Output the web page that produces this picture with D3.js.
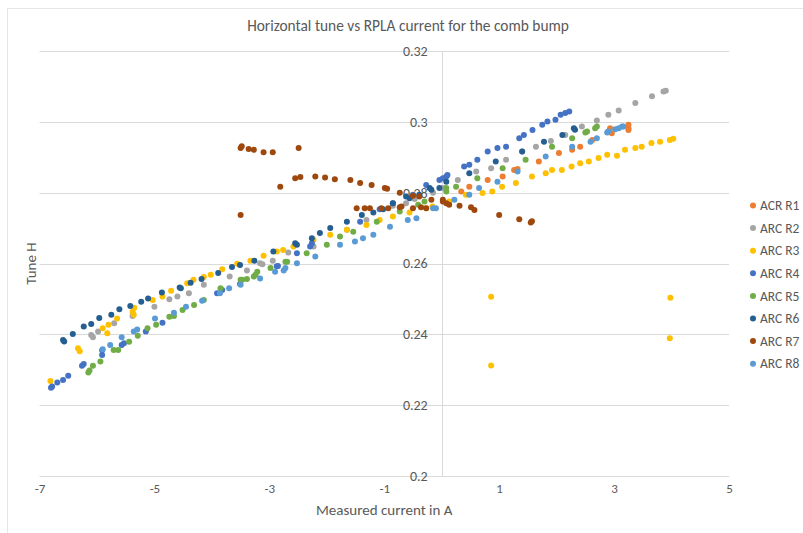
<!DOCTYPE html>
<html>
<head>
<meta charset="utf-8">
<script src="https://cdn.jsdelivr.net/npm/d3@7"></script>
<style>
  body { margin: 0; background: #fff; }
  text { font-family: Carlito, Calibri, Lato, "Open Sans", sans-serif; fill: #595959; }
</style>
</head>
<body>
<div id="chart"></div>
<script>
// data, [current A, tune H]
const acrR1 = [[0.34,0.2803],[0.48,0.2817],[0.80,0.2836],[1.06,0.2846],[1.26,0.2864],[1.32,0.2867],[1.69,0.2888],[2.04,0.2912],[2.27,0.2921],[2.41,0.2930],[2.62,0.2949],[2.90,0.2973],[2.93,0.2982],[2.96,0.2968],[3.25,0.2992],[3.25,0.2982],[3.25,0.2977]];
const arcR2 = [[-6.10,0.2398],[-6.07,0.2392],[-5.98,0.2408],[-5.70,0.2431],[-5.38,0.2452],[-5.00,0.2478],[-4.74,0.2499],[-4.60,0.2507],[-4.40,0.2516],[-4.14,0.2540],[-3.69,0.2563],[-3.39,0.2580],[-3.16,0.2601],[-3.12,0.2598],[-2.94,0.2608],[-2.67,0.2631],[-2.23,0.2648],[-1.65,0.2695],[-1.31,0.2723],[-0.85,0.2763],[-0.62,0.2770],[-0.47,0.2782],[-0.15,0.2800],[0.02,0.2813],[0.28,0.2836],[0.60,0.2860],[0.86,0.2869],[1.12,0.2893],[1.40,0.2916],[1.64,0.2930],[1.90,0.2946],[2.15,0.2963],[2.44,0.2987],[2.70,0.3004],[2.90,0.3020],[3.08,0.3032],[3.37,0.3053],[3.66,0.3072],[3.86,0.3086],[3.90,0.3088]];
const arcR3 = [[-6.81,0.2268],[-6.33,0.2361],[-6.30,0.2352],[-5.90,0.2417],[-5.82,0.2403],[-5.80,0.2427],[-5.65,0.2445],[-5.38,0.2464],[-5.35,0.2475],[-5.36,0.2455],[-5.03,0.2497],[-4.86,0.2507],[-4.71,0.2523],[-4.43,0.2544],[-4.32,0.2554],[-4.14,0.2562],[-4.02,0.2568],[-3.82,0.2584],[-3.56,0.2599],[-3.33,0.2608],[-3.10,0.2622],[-2.87,0.2634],[-2.76,0.2638],[-2.58,0.2648],[-2.23,0.2667],[-1.94,0.2681],[-1.65,0.2695],[-1.31,0.2709],[-1.08,0.2723],[-0.85,0.2733],[-0.56,0.2744],[-0.27,0.2756],[-0.16,0.2761],[0.13,0.2775],[0.42,0.2794],[0.71,0.2799],[0.88,0.2803],[1.05,0.2817],[1.29,0.2827],[1.57,0.2846],[1.81,0.2855],[1.92,0.2864],[2.09,0.2864],[2.26,0.2874],[2.41,0.2883],[2.56,0.2888],[2.73,0.2898],[2.88,0.2907],[3.05,0.2904],[3.19,0.2921],[3.37,0.2926],[3.48,0.2930],[3.65,0.2940],[3.80,0.2944],[3.97,0.2949],[4.03,0.2952],[0.86,0.2506],[0.86,0.2312],[3.98,0.2503],[3.97,0.2389]];
const arcR4 = [[-6.80,0.2249],[-6.78,0.2253],[-6.69,0.2264],[-6.59,0.2271],[-6.50,0.2283],[-6.26,0.2311],[-6.23,0.2316],[-5.91,0.2342],[-5.91,0.2355],[-5.57,0.2370],[-5.53,0.2375],[-5.15,0.2408],[-4.86,0.2433],[-3.91,0.2516],[-3.82,0.2525],[-3.51,0.2542],[-2.87,0.2592],[-2.85,0.2593],[-2.52,0.2629],[-2.29,0.2648],[-2.26,0.2657],[-1.42,0.2718],[-1.08,0.2753],[-0.85,0.2770],[-0.50,0.2794],[-0.27,0.2822],[-0.04,0.2836],[0.02,0.2841],[0.08,0.2846],[0.10,0.2850],[0.39,0.2874],[0.48,0.2879],[0.62,0.2893],[0.80,0.2916],[0.97,0.2926],[1.12,0.2930],[1.35,0.2954],[1.43,0.2963],[1.58,0.2977],[1.75,0.2992],[1.84,0.3001],[1.98,0.3006],[2.07,0.3020],[2.15,0.3025],[2.22,0.3029]];
const arcR5 = [[-6.15,0.2292],[-6.13,0.2298],[-6.07,0.2311],[-5.94,0.2323],[-5.71,0.2356],[-5.63,0.2356],[-5.44,0.2379],[-5.29,0.2396],[-5.12,0.2417],[-4.97,0.2427],[-4.74,0.2450],[-4.66,0.2452],[-4.51,0.2469],[-4.31,0.2483],[-4.14,0.2497],[-3.85,0.2530],[-3.50,0.2554],[-3.47,0.2554],[-3.39,0.2556],[-3.27,0.2563],[-3.24,0.2568],[-3.21,0.2577],[-2.98,0.2587],[-2.72,0.2605],[-2.69,0.2605],[-2.35,0.2629],[-2.00,0.2653],[-1.77,0.2676],[-1.54,0.2690],[-1.13,0.2718],[-0.73,0.2747],[-0.41,0.2766],[-0.30,0.2775],[0.08,0.2803],[0.08,0.2813],[0.25,0.2817],[0.62,0.2841],[1.06,0.2869],[1.46,0.2893],[1.92,0.2930],[2.27,0.2954],[2.50,0.2970],[2.53,0.2973],[2.67,0.2982],[2.70,0.2987]];
const arcR6 = [[-6.59,0.2384],[-6.57,0.2380],[-6.42,0.2401],[-6.23,0.2422],[-6.10,0.2429],[-5.96,0.2446],[-5.75,0.2455],[-5.61,0.2471],[-5.42,0.2480],[-5.23,0.2492],[-5.11,0.2501],[-4.87,0.2518],[-4.56,0.2532],[-4.54,0.2530],[-4.37,0.2546],[-4.18,0.2556],[-3.89,0.2573],[-3.65,0.2590],[-3.51,0.2596],[-3.26,0.2608],[-2.93,0.2634],[-2.55,0.2657],[-2.52,0.2653],[-2.26,0.2671],[-2.12,0.2686],[-1.94,0.2700],[-1.65,0.2718],[-1.39,0.2737],[-1.19,0.2744],[-1.02,0.2753],[-0.85,0.2770],[-0.62,0.2789],[-0.56,0.2784],[-0.39,0.2794],[-0.21,0.2813],[-0.18,0.2808],[-0.04,0.2813],[0.08,0.2831],[0.48,0.2855],[0.94,0.2888],[1.40,0.2916],[1.78,0.2944],[2.10,0.2963],[2.30,0.2982],[2.32,0.2978]];
const arcR7 = [[-3.50,0.2926],[-3.48,0.2931],[-3.36,0.2923],[-3.27,0.2921],[-3.10,0.2914],[-2.94,0.2914],[-2.49,0.2926],[-2.81,0.2817],[-3.50,0.2737],[-2.55,0.2841],[-2.46,0.2844],[-2.20,0.2846],[-2.03,0.2843],[-1.86,0.2838],[-1.59,0.2836],[-1.42,0.2827],[-1.22,0.2822],[-0.99,0.2813],[-0.95,0.2811],[-0.73,0.2800],[-0.50,0.2791],[-0.39,0.2789],[-0.18,0.2780],[0.02,0.2775],[-1.48,0.2756],[-1.34,0.2756],[-1.25,0.2756],[-1.05,0.2756],[-0.93,0.2756],[-0.73,0.2759],[-0.70,0.2761],[-0.50,0.2756],[-0.36,0.2759],[-0.27,0.2756],[0.02,0.2780],[0.08,0.2770],[0.13,0.2766],[0.31,0.2763],[0.51,0.2759],[0.57,0.2751],[1.00,0.2737],[1.35,0.2725],[1.55,0.2716],[1.57,0.2719]];
const arcR8 = [[-5.90,0.2358],[-5.77,0.2370],[-5.57,0.2392],[-5.36,0.2408],[-5.30,0.2414],[-4.99,0.2445],[-4.66,0.2461],[-4.45,0.2478],[-4.17,0.2495],[-3.86,0.2516],[-3.70,0.2530],[-3.50,0.2540],[-3.16,0.2558],[-2.90,0.2577],[-2.75,0.2580],[-2.72,0.2587],[-2.52,0.2601],[-2.20,0.2620],[-1.77,0.2653],[-1.51,0.2662],[-1.37,0.2671],[-1.19,0.2681],[-0.90,0.2704],[-0.59,0.2723],[-0.44,0.2728],[-0.15,0.2756],[-0.10,0.2756],[0.22,0.2780],[0.48,0.2794],[0.65,0.2813],[0.97,0.2831],[1.32,0.2860],[1.81,0.2902],[2.27,0.2930],[2.59,0.2944],[2.70,0.2954],[2.88,0.2970],[2.90,0.2973],[3.02,0.2979],[3.08,0.2982],[3.14,0.2987],[3.16,0.2987]];

const seriesNames = ["ACR R1", "ARC R2", "ARC R3", "ARC R4", "ARC R5", "ARC R6", "ARC R7", "ARC R8"];
const seriesColors = ["#ed7d31", "#a5a5a5", "#ffc000", "#4472c4", "#70ad47", "#255e91", "#9e480e", "#5b9bd5"];
const seriesData = [acrR1, arcR2, arcR3, arcR4, arcR5, arcR6, arcR7, arcR8];

const xTicks = [-7, -5, -3, -1, 1, 3, 5];
const yTicks = [0.2, 0.22, 0.24, 0.26, 0.28, 0.3, 0.32];

const width = 803, height = 533;
const plot = { left: 39.5, right: 729, top: 51, bottom: 476 };

const svg = d3.select("#chart").append("svg")
  .attr("width", width)
  .attr("height", height);

// chart border
svg.append("rect")
  .attr("x", 7.5).attr("y", 8.5)
  .attr("width", width - 7).attr("height", height - 7)
  .attr("fill", "none")
  .attr("stroke", "#e6e6e6");

const xScale = d3.scaleLinear().domain([-7, 5]).range([plot.left, plot.right]);
const yScale = d3.scaleLinear().domain([0.2, 0.32]).range([plot.bottom, plot.top]);

// gridlines
svg.append("g")
  .selectAll("line")
  .data(yTicks)
  .join("line")
  .attr("x1", plot.left).attr("x2", plot.right)
  .attr("y1", (d) => Math.round(yScale(d)) + 0.5)
  .attr("y2", (d) => Math.round(yScale(d)) + 0.5)
  .attr("stroke", "#d9d9d9")
  .attr("stroke-width", 1);

// vertical axis line at x = 0
svg.append("line")
  .attr("x1", Math.round(xScale(0)) + 0.5).attr("x2", Math.round(xScale(0)) + 0.5)
  .attr("y1", yScale(0.32)).attr("y2", yScale(0.2))
  .attr("stroke", "#d9d9d9");

// axes (labels only)
const xAxis = svg.append("g")
  .attr("transform", `translate(0, ${plot.bottom})`)
  .call(d3.axisBottom(xScale).tickValues(xTicks).tickSize(0).tickPadding(8).tickFormat((d) => String(d)));
xAxis.select(".domain").remove();
xAxis.selectAll("text").style("font-size", "13px").attr("fill", "#595959");

const yAxis = svg.append("g")
  .attr("transform", `translate(${xScale(0)}, 0)`)
  .call(d3.axisLeft(yScale).tickValues(yTicks).tickSize(0).tickPadding(14).tickFormat((d) => String(d)));
yAxis.select(".domain").remove();
yAxis.selectAll("text").style("font-size", "14px").attr("fill", "#595959");

// points, series drawn in legend order
seriesData.forEach(function (data, i) {
  svg.append("g")
    .selectAll("circle")
    .data(data)
    .join("circle")
    .attr("cx", (d) => xScale(d[0]))
    .attr("cy", (d) => yScale(d[1]))
    .attr("r", 3)
    .attr("fill", seriesColors[i]);
});

// title and axis titles
svg.append("text")
  .attr("x", 408).attr("y", 31)
  .attr("text-anchor", "middle")
  .style("font-size", "15.4px")
  .text("Horizontal tune vs RPLA current for the comb bump");

svg.append("text")
  .attr("x", (plot.left + plot.right) / 2).attr("y", 515)
  .attr("text-anchor", "middle")
  .style("font-size", "15px")
  .text("Measured current in A");

svg.append("text")
  .attr("transform", `translate(36, ${(plot.top + plot.bottom) / 2}) rotate(-90)`)
  .attr("text-anchor", "middle")
  .style("font-size", "15px")
  .text("Tune H");

// legend
const legend = svg.append("g");
seriesNames.forEach(function (name, i) {
  const ly = 205.5 + i * 22.6;
  legend.append("circle")
    .attr("cx", 753).attr("cy", ly)
    .attr("r", 3)
    .attr("fill", seriesColors[i]);
  legend.append("text")
    .attr("x", 760).attr("y", ly)
    .attr("dy", "0.35em")
    .style("font-size", "13.5px")
    .text(name);
});
</script>
</body>
</html>
